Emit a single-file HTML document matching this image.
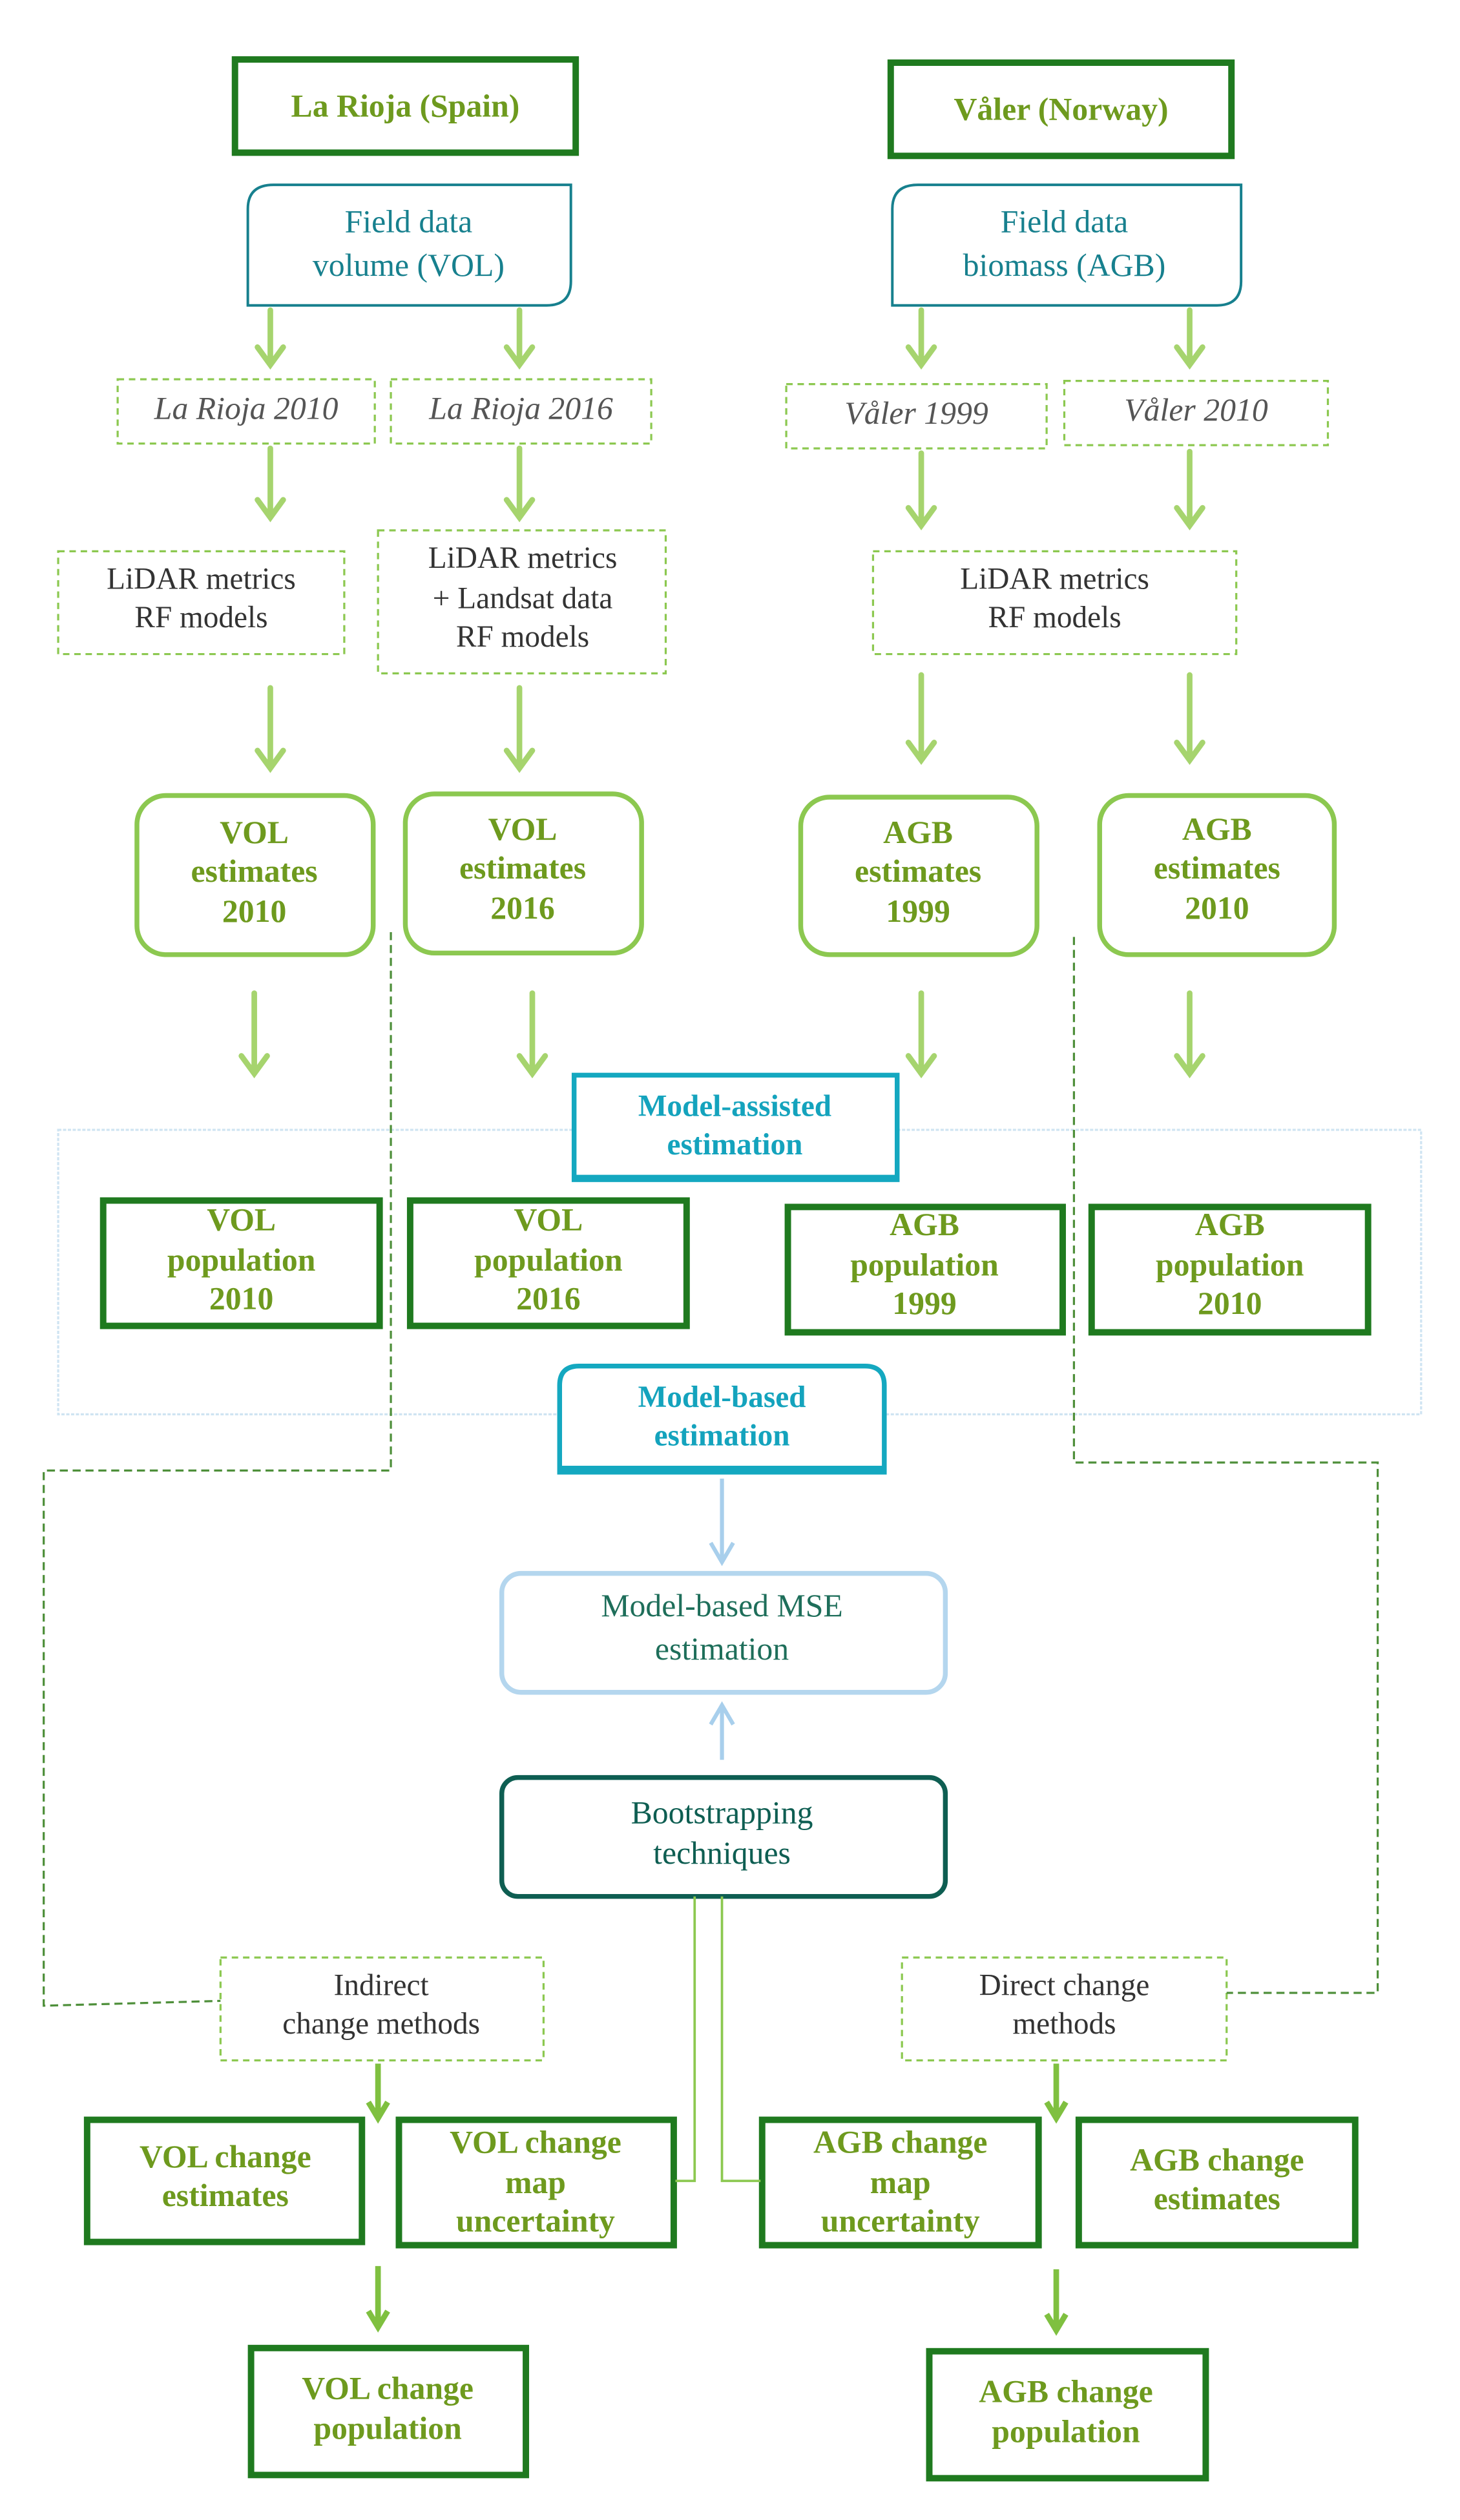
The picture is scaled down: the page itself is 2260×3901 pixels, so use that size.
<!DOCTYPE html>
<html><head><meta charset="utf-8"><style>
html,body{margin:0;padding:0;background:#fff}
svg{display:block}
text{font-family:"Liberation Serif",serif;text-anchor:middle;dominant-baseline:middle}
.t{font-size:20px;fill:#6e9a1e}
.b{font-weight:bold}
.i{font-style:italic;fill:#555;font-size:20px}
.k{fill:#333;font-size:19px}
.c{fill:#14a3bd;font-weight:bold;font-size:19px}
.tl{fill:#17808e;font-size:20px}
.dg{fill:#0e5e52;font-size:20px}
</style></head><body>
<svg width="2260" height="3901" viewBox="0 0 908 1568" xmlns="http://www.w3.org/2000/svg">
<defs>
<marker id="ag" viewBox="0 0 12 12" refX="6" refY="10" markerWidth="5" markerHeight="5" orient="auto-start-reverse" markerUnits="userSpaceOnUse"></marker>
</defs>
<g fill="none" stroke="#1f7a1f" stroke-width="4">
<rect x="146" y="37" width="212" height="58"/>
<rect x="554" y="39" width="212" height="58"/>
<rect x="64" y="747" width="172" height="78"/>
<rect x="255" y="747" width="172" height="78"/>
<rect x="490" y="751" width="171" height="78"/>
<rect x="679" y="751" width="172" height="78"/>
<rect x="54" y="1319" width="171" height="76"/>
<rect x="248" y="1319" width="171" height="78"/>
<rect x="474" y="1319" width="172" height="78"/>
<rect x="671" y="1319" width="172" height="78"/>
<rect x="156" y="1461" width="171" height="79"/>
<rect x="578" y="1463" width="172" height="79"/>
</g>
<g fill="none" stroke="#17808e" stroke-width="1.6">
<path d="M170,115 H355 V175 Q355,190 340,190 H154 V130 Q154,115 170,115 Z"/>
<path d="M571,115 H772 V175 Q772,190 757,190 H555 V130 Q555,115 571,115 Z"/>
</g>
<g fill="none" stroke="#8cc850" stroke-width="1.3" stroke-dasharray="4,3">
<rect x="73" y="236" width="160" height="40"/>
<rect x="243" y="236" width="162" height="40"/>
<rect x="489" y="239" width="162" height="40"/>
<rect x="662" y="237" width="164" height="40"/>
<rect x="36" y="343" width="178" height="64"/>
<rect x="235" y="330" width="179" height="89"/>
<rect x="543" y="343" width="226" height="64"/>
<rect x="137" y="1218" width="201" height="64"/>
<rect x="561" y="1218" width="202" height="64"/>
</g>
<g fill="none" stroke="#8cc850" stroke-width="3">
<rect x="85" y="495" width="147" height="99" rx="18"/>
<rect x="252" y="494" width="147" height="99" rx="18"/>
<rect x="498" y="496" width="147" height="98" rx="18"/>
<rect x="684" y="495" width="146" height="99" rx="18"/>
</g>
<rect x="36" y="703" width="848" height="177" fill="none" stroke="#cfe4f2" stroke-width="1.3" stroke-dasharray="2,1"/>
<rect x="357" y="669" width="201" height="65" fill="#fff" stroke="#14a8c0" stroke-width="3"/>
<line x1="357" y1="733" x2="558" y2="733" stroke="#14a8c0" stroke-width="4"/>
<path d="M348,916 V862 Q348,850 360,850 H538 Q550,850 550,862 V916 Z" fill="#fff" stroke="#14a8c0" stroke-width="3"/>
<line x1="348" y1="914" x2="550" y2="914" stroke="#14a8c0" stroke-width="4"/>
<rect x="312" y="979" width="276" height="74" rx="12" fill="none" stroke="#b4d6ee" stroke-width="3"/>
<rect x="312" y="1106" width="276" height="74" rx="10" fill="none" stroke="#0e5e52" stroke-width="3"/>
<g fill="none" stroke="#4e8f3a" stroke-width="1.3" stroke-dasharray="5,3">
<path d="M243,580 V915 H27 V1248 L137,1245"/>
<path d="M668,583 V910 H857 V1240 H763"/>
</g>
<g fill="none" stroke="#8cc850" stroke-width="1.5">
<path d="M432,1180 V1357 H420"/>
<path d="M449,1180 V1357 H473"/>
</g>
<g stroke="#a6d46e" stroke-width="3.5" fill="none" stroke-linecap="round">
<path d="M168,193V226M160,216L168,227L176,216"/>
<path d="M323,193V226M315,216L323,227L331,216"/>
<path d="M573,193V226M565,216L573,227L581,216"/>
<path d="M740,193V226M732,216L740,227L748,216"/>
<path d="M168,279V321M160,311L168,322L176,311"/>
<path d="M323,279V321M315,311L323,322L331,311"/>
<path d="M573,282V326M565,316L573,327L581,316"/>
<path d="M740,281V326M732,316L740,327L748,316"/>
<path d="M168,428V477M160,467L168,478L176,467"/>
<path d="M323,428V477M315,467L323,478L331,467"/>
<path d="M573,420V472M565,462L573,473L581,462"/>
<path d="M740,420V472M732,462L740,473L748,462"/>
<path d="M158,618V667M150,657L158,668L166,657"/>
<path d="M331,618V667M323,657L331,668L339,657"/>
<path d="M573,618V667M565,657L573,668L581,657"/>
<path d="M740,618V667M732,657L740,668L748,657"/>
</g>
<g stroke="#7fc040" stroke-width="3.5" fill="none">
<path d="M235,1284V1316M229,1308L235,1318L241,1308"/>
<path d="M657,1284V1316M651,1308L657,1318L663,1308"/>
<path d="M235,1410V1446M229,1438L235,1448L241,1438"/>
<path d="M657,1412V1448M651,1440L657,1450L663,1440"/>
</g>
<g stroke="#a8cfec" stroke-width="2.5" fill="none">
<path d="M449,920V970M442,960L449,972L456,960"/>
<path d="M449,1095V1063M442,1073L449,1061L456,1073"/>
</g>
<text class="t b" x="252" y="68">La Rioja (Spain)</text>
<text class="t b" x="660" y="70">Våler (Norway)</text>
<text class="tl" x="254" y="140">Field  data</text>
<text class="tl" x="254" y="167">volume  (VOL)</text>
<text class="tl" x="662" y="140">Field  data</text>
<text class="tl" x="662" y="167">biomass  (AGB)</text>
<text class="i" x="153" y="256">La Rioja 2010</text>
<text class="i" x="324" y="256">La Rioja 2016</text>
<text class="i" x="570" y="259">Våler 1999</text>
<text class="i" x="744" y="257">Våler 2010</text>
<text class="k" x="125" y="362">LiDAR metrics</text>
<text class="k" x="125" y="386">RF models</text>
<text class="k" x="325" y="349">LiDAR metrics</text>
<text class="k" x="325" y="374">+ Landsat data</text>
<text class="k" x="325" y="398">RF models</text>
<text class="k" x="656" y="362">LiDAR metrics</text>
<text class="k" x="656" y="386">RF models</text>
<g class="t b">
<text x="158" y="520">VOL</text><text x="158" y="544">estimates</text><text x="158" y="569">2010</text>
<text x="325" y="518">VOL</text><text x="325" y="542">estimates</text><text x="325" y="567">2016</text>
<text x="571" y="520">AGB</text><text x="571" y="544">estimates</text><text x="571" y="569">1999</text>
<text x="757" y="518">AGB</text><text x="757" y="542">estimates</text><text x="757" y="567">2010</text>
<text x="150" y="761">VOL</text><text x="150" y="786">population</text><text x="150" y="810">2010</text>
<text x="341" y="761">VOL</text><text x="341" y="786">population</text><text x="341" y="810">2016</text>
<text x="575" y="764">AGB</text><text x="575" y="789">population</text><text x="575" y="813">1999</text>
<text x="765" y="764">AGB</text><text x="765" y="789">population</text><text x="765" y="813">2010</text>
<text x="140" y="1344">VOL change</text><text x="140" y="1368">estimates</text>
<text x="333" y="1335">VOL change</text><text x="333" y="1360">map</text><text x="333" y="1384">uncertainty</text>
<text x="560" y="1335">AGB change</text><text x="560" y="1360">map</text><text x="560" y="1384">uncertainty</text>
<text x="757" y="1346">AGB change</text><text x="757" y="1370">estimates</text>
<text x="241" y="1488">VOL change</text><text x="241" y="1513">population</text>
<text x="663" y="1490">AGB change</text><text x="663" y="1515">population</text>
</g>
<text class="c" x="457" y="690">Model-assisted</text>
<text class="c" x="457" y="714">estimation</text>
<text class="c" x="449" y="871">Model-based</text>
<text class="c" x="449" y="895">estimation</text>
<text class="tl" x="449" y="1001" style="fill:#1e6e5a">Model-based  MSE</text>
<text class="tl" x="449" y="1028" style="fill:#1e6e5a">estimation</text>
<text class="dg" x="449" y="1130">Bootstrapping</text>
<text class="dg" x="449" y="1155">techniques</text>
<text class="k" x="237" y="1237">Indirect</text>
<text class="k" x="237" y="1261">change methods</text>
<text class="k" x="662" y="1237">Direct change</text>
<text class="k" x="662" y="1261">methods</text>
</svg>
</body></html>
